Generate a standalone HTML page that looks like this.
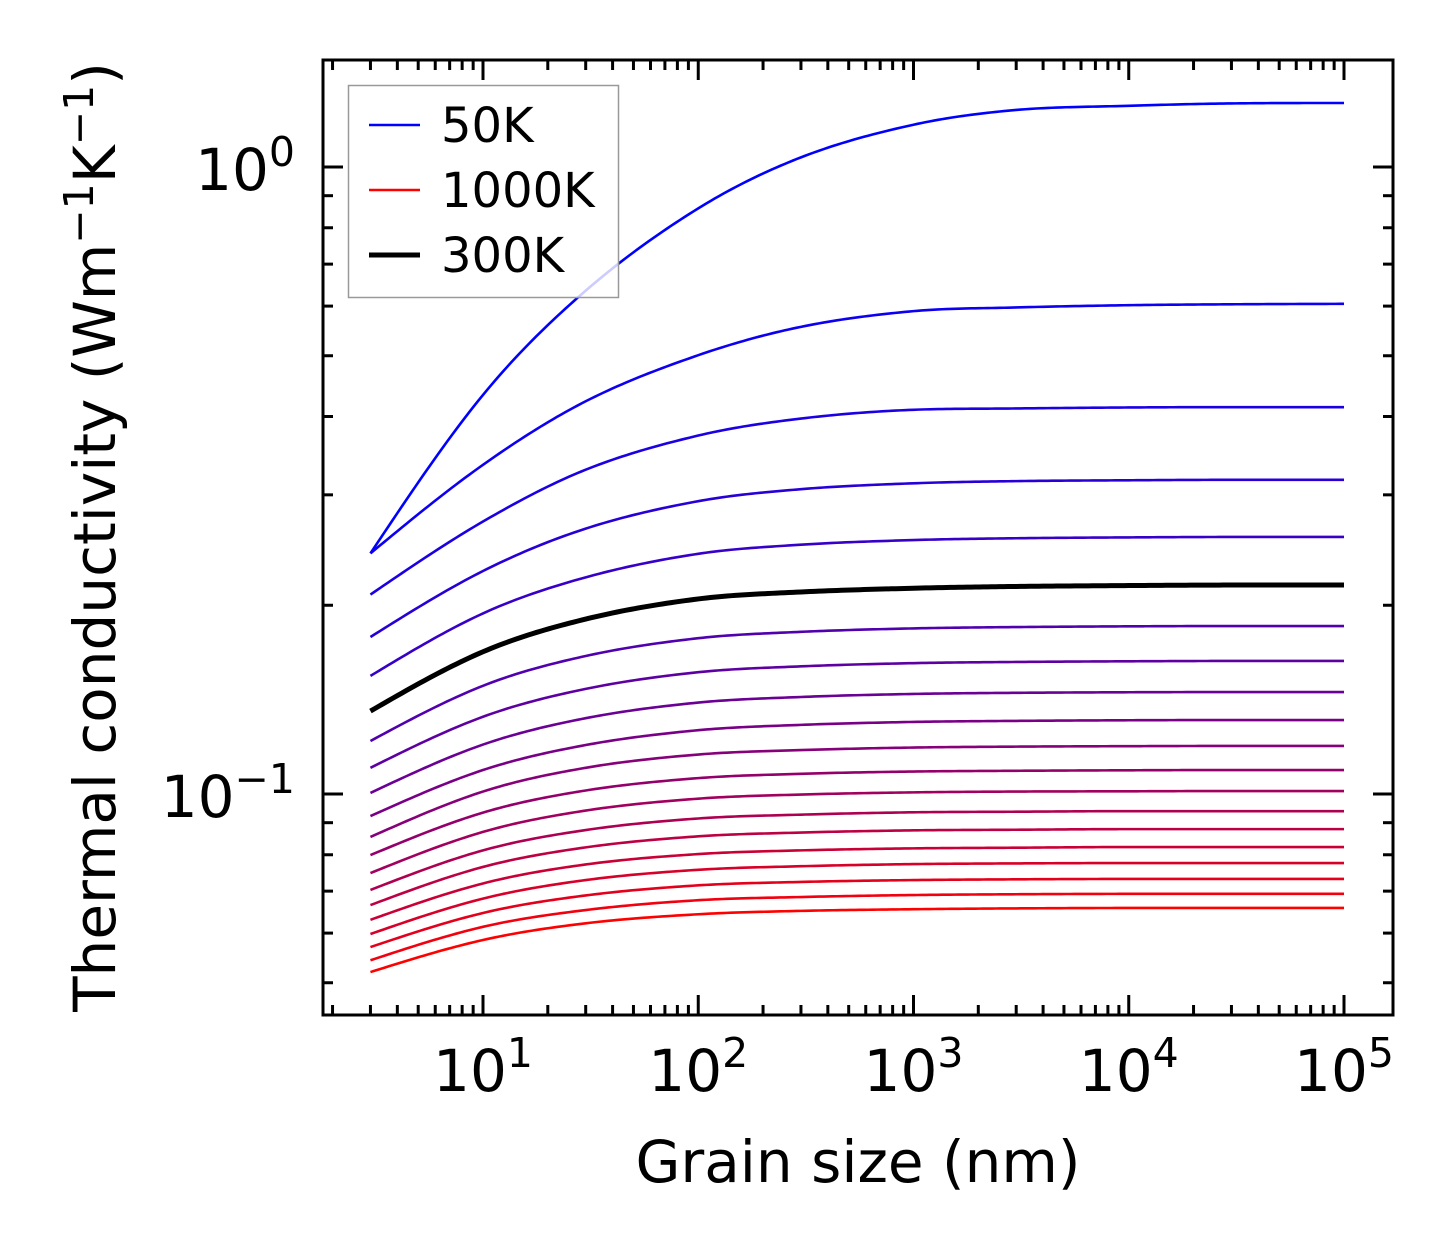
<!DOCTYPE html>
<html><head><meta charset="utf-8"><style>
html,body{margin:0;padding:0;background:#fff;}
svg{display:block;font-family:"DejaVu Sans","Liberation Sans",sans-serif;}
</style></head><body>
<svg id="chart" width="1454" height="1254" viewBox="0 0 1454 1254" xmlns="http://www.w3.org/2000/svg">
<rect x="0" y="0" width="1454" height="1254" fill="#fff"/>
<g id="curves"></g>
<g id="ticks"></g>
<rect x="323" y="60" width="1070" height="955" fill="none" stroke="#000" stroke-width="3"/>
<g id="labels"></g>
<text x="858" y="1182" font-size="58" text-anchor="middle">Grain size (nm)</text>
<text transform="translate(115,537) rotate(-90)" font-size="58" text-anchor="middle">Thermal conductivity (Wm<tspan dy="-22" font-size="41">−1</tspan><tspan dy="22">K</tspan><tspan dy="-22" font-size="41">−1</tspan><tspan dy="22">)</tspan></text>
<g>
<rect x="348.5" y="85.5" width="270" height="212" fill="#fff" fill-opacity="0.8" stroke="#999" stroke-width="1.5"/>
<line x1="369" y1="125" x2="420" y2="125" stroke="rgb(0,0,255)" stroke-width="2.4"/>
<text x="441" y="142" font-size="48">50K</text>
<line x1="369" y1="190" x2="420" y2="190" stroke="rgb(255,0,0)" stroke-width="2.4"/>
<text x="441" y="207" font-size="48">1000K</text>
<line x1="369" y1="255" x2="420" y2="255" stroke="#000" stroke-width="5"/>
<text x="441" y="272" font-size="48">300K</text>
</g>
</svg>
<script>
const grainSizes = [3, 10, 30, 100, 300, 1000, 3000, 10000, 30000, 100000];
const temperatures = [50,100,150,200,250,300,350,400,450,500,550,600,650,700,750,800,850,900,950,1000];
const k50 = [0.242,0.433,0.635,0.859,1.036,1.168,1.233,1.252,1.263,1.265];
const k100 = [0.242,0.335,0.423,0.501,0.556,0.589,0.597,0.602,0.604,0.605];
const k150 = [0.208,0.272,0.329,0.373,0.397,0.410,0.412,0.4135,0.414,0.414];
const k200 = [0.178,0.2268,0.265,0.2931,0.3063,0.313,0.3155,0.3165,0.317,0.317];
const k250 = [0.1543,0.1941,0.2216,0.2416,0.2498,0.2541,0.2558,0.2566,0.257,0.257];
const k300 = [0.1356,0.1686,0.1901,0.2047,0.2100,0.2129,0.2143,0.2150,0.2154,0.2154];
const k350 = [0.1215,0.1488,0.1660,0.1772,0.1814,0.1837,0.1846,0.1851,0.1853,0.1853];
const k400 = [0.1101,0.1328,0.1471,0.1564,0.1598,0.1617,0.1624,0.1628,0.1630,0.1630];
const k450 = [0.1004,0.1199,0.1321,0.1399,0.1428,0.1444,0.1450,0.1453,0.1454,0.1454];
const k500 = [0.0922,0.1092,0.1197,0.1264,0.1289,0.1303,0.1308,0.1311,0.1312,0.1312];
const k550 = [0.0854,0.1009,0.1101,0.1156,0.1175,0.1186,0.1190,0.1192,0.1193,0.1193];
const k600 = [0.0799,0.0934,0.1013,0.1060,0.1077,0.1086,0.1089,0.1091,0.1092,0.1092];
const k650 = [0.0748,0.0870,0.0941,0.0983,0.0998,0.1006,0.1009,0.1010,0.1011,0.1011];
const k700 = [0.0703,0.0813,0.0876,0.0914,0.0927,0.0935,0.0937,0.0939,0.0939,0.0939];
const k750 = [0.0665,0.0765,0.0822,0.0856,0.0868,0.0875,0.0877,0.0879,0.0879,0.0879];
const k800 = [0.0630,0.0720,0.0772,0.0802,0.0813,0.0819,0.0821,0.0823,0.0823,0.0823];
const k850 = [0.0598,0.0681,0.0729,0.0757,0.0767,0.0773,0.0775,0.0776,0.0776,0.0776];
const k900 = [0.0570,0.0646,0.0689,0.0715,0.0724,0.0729,0.0731,0.0732,0.0732,0.0732];
const k950 = [0.0543,0.0614,0.0653,0.0677,0.0685,0.0690,0.0692,0.0693,0.0693,0.0693];
const k1000 = [0.0520,0.0585,0.0622,0.0643,0.0651,0.0655,0.0657,0.0658,0.0658,0.0658];
const series = [k50,k100,k150,k200,k250,k300,k350,k400,k450,k500,k550,k600,k650,k700,k750,k800,k850,k900,k950,k1000];
const xTickExps = [1,2,3,4,5];
const yTickExps = [-1,0];

const NS = "http://www.w3.org/2000/svg";
const X0 = 323, X1 = 1393, Y0 = 60, Y1 = 1015;
const xLogMin = 1 - 160/215.25, xLogMax = 5 + 49/215.25;
const yLogMin = -1 - 221/627, yLogMax = 107/627;
function xs(v){ return X0 + (Math.log10(v) - xLogMin) / (xLogMax - xLogMin) * (X1 - X0); }
function ys(v){ return Y1 - (Math.log10(v) - yLogMin) / (yLogMax - yLogMin) * (Y1 - Y0); }

// cubic Hermite in log-log space with centered slopes
function pathFor(vals){
  const x = grainSizes.map(Math.log10), y = vals.map(Math.log10), n = x.length;
  const d = [], m = [];
  for (let i=0;i<n-1;i++) d.push((y[i+1]-y[i])/(x[i+1]-x[i]));
  for (let i=1;i<n-1;i++){
    m[i] = (y[i+1]-y[i-1])/(x[i+1]-x[i-1]);
    const lim = 3*Math.min(Math.abs(d[i-1]), Math.abs(d[i]));
    if (Math.abs(m[i]) > lim) m[i] = Math.sign(m[i])*lim;
  }
  m[0] = Math.max(d[0], 1.5*d[0] - 0.5*m[1]);
  m[n-1] = Math.max(0, 1.5*d[n-2] - 0.5*m[n-2]);
  let s = "";
  for (let i=0;i<n-1;i++){
    const h = x[i+1]-x[i];
    for (let t=0;t<=1.0001;t+=0.04){
      const t2=t*t, t3=t2*t;
      const yy = (2*t3-3*t2+1)*y[i] + (t3-2*t2+t)*h*m[i] + (-2*t3+3*t2)*y[i+1] + (t3-t2)*h*m[i+1];
      s += (s ? "L" : "M") + xs(Math.pow(10, x[i]+t*h)).toFixed(2) + "," + ys(Math.pow(10, yy)).toFixed(2);
    }
  }
  return s;
}

const cg = document.getElementById("curves");
let blackPath = null;
series.forEach((vals, i) => {
  const p = document.createElementNS(NS, "path");
  p.setAttribute("d", pathFor(vals));
  p.setAttribute("fill", "none");
  p.setAttribute("stroke-linejoin", "round");
  const f = i / (series.length - 1);
  const isBlack = temperatures[i] === 300;
  p.setAttribute("stroke", isBlack ? "#000" : `rgb(${Math.round(255*f)},0,${Math.round(255*(1-f))})`);
  p.setAttribute("stroke-width", isBlack ? "5" : "2.6");
  
  
  if (isBlack) blackPath = p; else cg.appendChild(p);
});
if (blackPath) cg.appendChild(blackPath);

const tg = document.getElementById("ticks"), lg = document.getElementById("labels");
function tick(x1,y1,x2,y2,name){
  const l = document.createElementNS(NS, "line");
  l.setAttribute("x1",x1); l.setAttribute("y1",y1); l.setAttribute("x2",x2); l.setAttribute("y2",y2);
  l.setAttribute("stroke","#000"); l.setAttribute("stroke-width","3");
  
  
  tg.appendChild(l);
}
for (let e=0;e<=5;e++){
  for (let k=1;k<=9;k++){
    const v = k*Math.pow(10,e), lv = Math.log10(v);
    if (lv < xLogMin || lv > xLogMax) continue;
    const x = xs(v), len = k===1 ? 20 : 10;
    tick(x, Y1, x, Y1-len, 'x-tick');
    tick(x, Y0, x, Y0+len, 'x-tick-top');
  }
}
for (let e=-2;e<=0;e++){
  for (let k=1;k<=9;k++){
    const v = k*Math.pow(10,e), lv = Math.log10(v);
    if (lv < yLogMin || lv > yLogMax) continue;
    const y = ys(v), len = k===1 ? 20 : 10;
    tick(X0, y, X0+len, y, 'y-tick');
    tick(X1, y, X1-len, y, 'y-tick-right');
  }
}
xTickExps.forEach(e => {
  const t = document.createElementNS(NS, "text");
  t.setAttribute("x", xs(Math.pow(10,e)));
  t.setAttribute("y", 1091);
  t.setAttribute("font-size", "58");
  t.setAttribute("text-anchor", "middle");
  t.innerHTML = '10<tspan dy="-24" font-size="41">' + e + '</tspan>';
  
  
  lg.appendChild(t);
});
yTickExps.forEach(e => {
  const t = document.createElementNS(NS, "text");
  t.setAttribute("x", 295);
  t.setAttribute("y", ys(Math.pow(10,e)) + 23);
  t.setAttribute("font-size", "58");
  t.setAttribute("text-anchor", "end");
  t.innerHTML = '10<tspan dy="-24" font-size="41">' + (e<0 ? '−' + (-e) : e) + '</tspan>';
  
  
  lg.appendChild(t);
});
</script>
</body></html>
